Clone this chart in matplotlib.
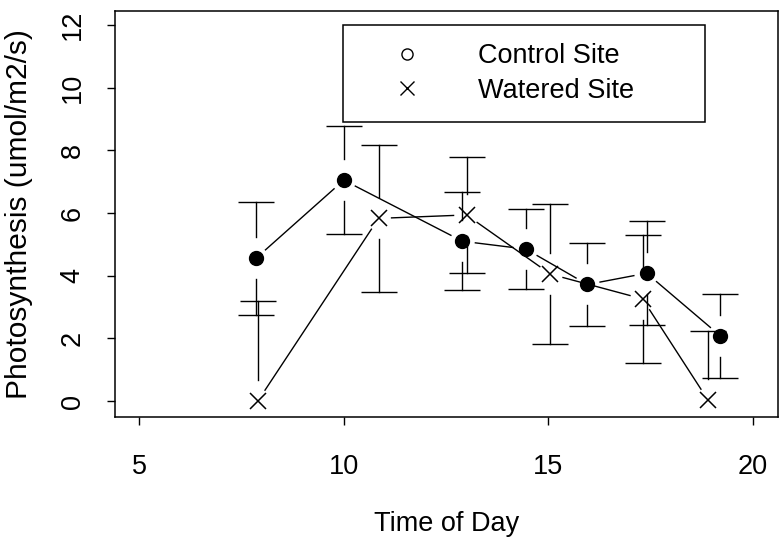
import numpy as np
import matplotlib
matplotlib.use('Agg')
import matplotlib.pyplot as plt
from matplotlib.lines import Line2D

# Field measurements: mean photosynthesis and error half-widths by time of day
control_time = [7.85, 10.0, 12.9, 14.45, 15.95, 17.4, 19.2]
control_mean = [4.55, 7.05, 5.1, 4.85, 3.72, 4.08, 2.08]
control_err = [1.8, 1.73, 1.56, 1.27, 1.33, 1.66, 1.33]

watered_time = [7.9, 10.85, 13.0, 15.05, 17.3, 18.9]
watered_mean = [0.0, 5.83, 5.94, 4.05, 3.26, 0.03]
watered_err = [3.2, 2.35, 1.86, 2.23, 2.04, 2.22]

x_ticks = [5, 10, 15, 20]
y_ticks = [0, 2, 4, 6, 8, 10, 12]

FONT = 19.5
LW = 1.0
POINT_GAP = 13   # px left blank around each point on the connecting line
BAR_GAP = 21     # px left blank between a point and its error bar

plt.rcParams['font.family'] = ['Liberation Sans', 'DejaVu Sans']

fig = plt.figure(figsize=(7.8, 5.42), dpi=100)
ax = fig.add_axes([115 / 780, 125 / 542, 663 / 780, 406 / 542])
ax.set_xlim(4.41, 20.61)
ax.set_ylim(-0.51, 12.45)


def gapped_line(xs, ys, gap):
    # join consecutive points like R's type="b": segments stop short of each point
    pts = ax.transData.transform(np.column_stack([xs, ys]))
    inv = ax.transData.inverted()
    for p0, p1 in zip(pts[:-1], pts[1:]):
        d = p1 - p0
        n = np.hypot(*d)
        if n <= 2 * gap:
            continue
        u = d / n
        seg = inv.transform(np.array([p0 + u * gap, p1 - u * gap]))
        ax.plot(seg[:, 0], seg[:, 1], color='black', lw=LW)


def gapped_errorbars(xs, ys, errs, gap):
    # vertical bars that start a little away from the point, with flat caps
    px_per_y = ax.transData.transform((0, 1))[1] - ax.transData.transform((0, 0))[1]
    g = gap / px_per_y
    for x, y, e in zip(xs, ys, errs):
        for sign in (1, -1):
            ax.plot([x, x], [y + sign * g, y + sign * e], color='black', lw=LW)
            ax.plot([x], [y + sign * e], marker='_', ms=26, mew=LW, color='black')


gapped_errorbars(control_time, control_mean, control_err, BAR_GAP)
gapped_errorbars(watered_time, watered_mean, watered_err, BAR_GAP)
gapped_line(control_time, control_mean, POINT_GAP)
gapped_line(watered_time, watered_mean, POINT_GAP)

ax.plot(control_time, control_mean, 'o', ms=10, color='black', ls='none')
ax.plot(watered_time, watered_mean, 'x', ms=11.5, mew=1.1, color='black', ls='none')

ax.set_xticks(x_ticks)
ax.set_yticks(y_ticks)
ax.tick_params(axis='both', direction='out', length=6, width=LW, labelsize=FONT, color='black')
ax.tick_params(axis='x', pad=21)
ax.tick_params(axis='y', pad=15, labelrotation=90)
for lab in ax.get_yticklabels():
    lab.set_verticalalignment('center')

for s in ax.spines.values():
    s.set_linewidth(LW * 1.1)
    s.set_color('black')

ax.set_xlabel('Time of Day', fontsize=FONT)
ax.set_ylabel('Photosynthesis (umol/m2/s)', fontsize=21.5)
ax.xaxis.set_label_coords(0.5, -0.2315)
ax.yaxis.set_label_coords(-0.124, 0.5)

handles = [
    Line2D([], [], marker='o', mfc='none', mec='black', mew=1.0, ms=8, ls='none'),
    Line2D([], [], marker='x', color='black', mew=1.0, ms=10, ls='none'),
]
leg = ax.legend(handles, ['Control Site', 'Watered Site'], loc='upper left',
                bbox_to_anchor=(0.344, 0.5, 0.546, 0.4655), mode='expand',
                borderaxespad=0, borderpad=0.68, handlelength=3.35,
                handletextpad=0.95, labelspacing=0.3, fontsize=FONT,
                frameon=True, fancybox=False, framealpha=1)
leg.get_frame().set_edgecolor('black')
leg.get_frame().set_linewidth(LW * 1.1)

fig.savefig('out.png', dpi=100)
